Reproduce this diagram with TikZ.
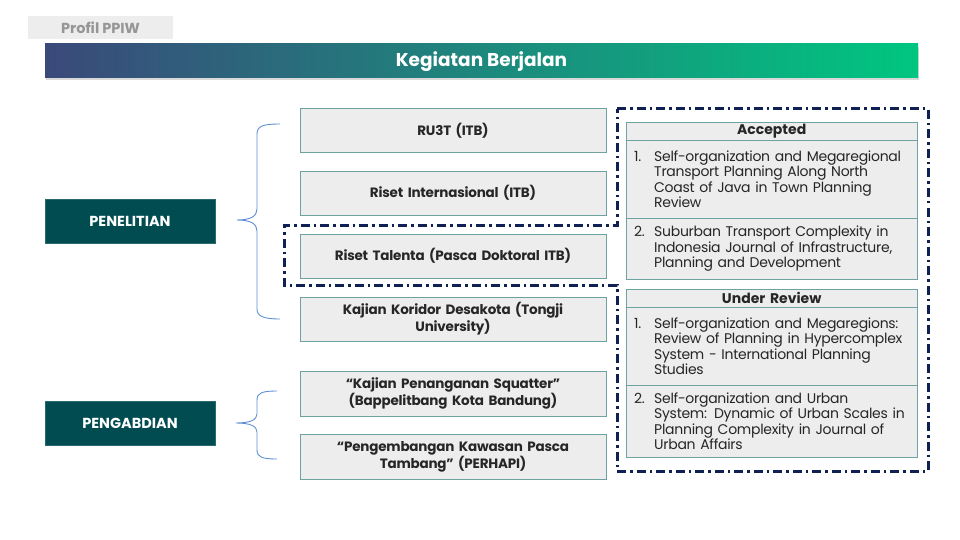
\documentclass[tikz,border=0pt]{standalone}
\usepackage{fontspec}
\setmainfont{Poppins}
\usepackage{tikz}
\usetikzlibrary{matrix,positioning}

\definecolor{ppteal}{RGB}{0,76,80}
\definecolor{ppedge}{RGB}{40,106,110}
\definecolor{ppnavy}{RGB}{14,33,82}
\definecolor{ppbrace}{RGB}{95,142,212}
\definecolor{ppline}{RGB}{110,162,160}
\definecolor{ppfill}{RGB}{237,237,237}
\definecolor{ppgrey}{RGB}{150,150,150}
\definecolor{ppblue}{RGB}{58,73,122}
\definecolor{ppmid}{RGB}{40,118,122}
\definecolor{ppgreen}{RGB}{0,198,128}

\newcommand{\pubitem}[2]{\makebox[20pt][l]{#1}\parbox[t]{255pt}{\raggedright #2}}

\begin{document}
\begin{tikzpicture}[x=1pt, y=-1pt,
  cat/.style={fill=ppteal, draw=ppedge, line width=0.6pt, text=white, font=\bfseries\fontsize{14.5}{16}\selectfont, minimum width=170pt, minimum height=44pt, inner sep=0pt},
  item/.style={draw=ppline, fill=ppfill, text=black!85, font=\bfseries\fontsize{13.5}{16}\selectfont\addfontfeatures{LetterSpace=-1.5}, minimum height=44.5pt, text width=296pt, inner xsep=5pt, inner ysep=0pt, align=center},
  brace/.style={draw=ppbrace, line width=0.9pt},
  frame/.style={draw=ppnavy, line width=3pt, dash pattern=on 9pt off 4pt on 2.5pt off 4pt},
  pub/.style={matrix of nodes, anchor=north west, inner sep=0pt, outer sep=0pt, row sep=-\pgflinewidth, nodes={draw=ppline, fill=ppfill, text=black!85, font=\fontsize{14}{15.5}\selectfont\addfontfeatures{LetterSpace=-2}, text width=275pt, inner xsep=8pt, inner ysep=0pt, anchor=center, align=left}}]
\useasboundingbox (0,0) rectangle (960,540);

\node[fill=ppfill, text=ppgrey, font=\bfseries\fontsize{14.5}{16}\selectfont, minimum width=145pt, minimum height=23pt, inner sep=0pt] (profil) at (100.5,27.5) {Profil PPIW};

\fill[black, opacity=0.15] (46,47) rectangle (919,80);
\shade[left color=ppblue, middle color=ppmid, right color=ppgreen] (45,44) rectangle (918,78);
\node[text=white, font=\bfseries\fontsize{18.5}{22}\selectfont] (judul) at (481.5,62) {Kegiatan Berjalan};

\node[cat] (pen) at (130,221) {PENELITIAN};
\node[cat] (peng) at (130,423) {PENGABDIAN};

\node[item] (ru3t) at (453,130.25) {RU3T (ITB)};
\node[item, below=18pt of ru3t] (intl) {Riset Internasional (ITB)};
\node[item, below=18pt of intl] (talenta) {Riset Talenta (Pasca Doktoral ITB)};
\node[item, below=18pt of talenta] (desakota) {Kajian Koridor Desakota (Tongji\\University)};
\node[item, below=30pt of desakota] (squatter) {“Kajian Penanganan Squatter”\\(Bappelitbang Kota Bandung)};
\node[item, below=18pt of squatter] (tambang) {“Pengembangan Kawasan Pasca\\Tambang” (PERHAPI)};

\draw[brace] (280,124) .. controls (263,124) and (257,126) .. (257,134) -- (257,209)
  .. controls (257,216) and (251,220) .. (237,220) .. controls (251,220) and (257,224) .. (257,231)
  -- (257,309) .. controls (257,316) and (263,319) .. (280,319);
\draw[brace] (277,391) .. controls (262,391) and (257,393) .. (257,400) -- (257,414)
  .. controls (257,420) and (250,423) .. (236,423) .. controls (250,423) and (257,426) .. (257,432)
  -- (257,450) .. controls (257,457) and (262,459) .. (277,459);

\matrix (acc) [pub] at (626,122) {
|[font=\bfseries\fontsize{14}{15.5}\selectfont, align=center, minimum height=18pt]| Accepted \\
|[minimum height=78pt]| \pubitem{1.}{Self-organization and Megaregional\\Transport Planning Along North\\Coast of Java in Town Planning\\Review} \\
|[minimum height=61pt]| \pubitem{2.}{Suburban Transport Complexity in\\Indonesia Journal of Infrastructure,\\Planning and Development} \\
};

\matrix (rev) [pub] at (626,289) {
|[font=\bfseries\fontsize{14}{15.5}\selectfont, align=center, minimum height=18pt]| Under Review \\
|[minimum height=78pt]| \pubitem{1.}{Self-organization and Megaregions:\\Review of Planning in Hypercomplex\\System - International Planning\\Studies} \\
|[minimum height=72pt]| \pubitem{2.}{Self-organization and Urban\\System: Dynamic of Urban Scales in\\Planning Complexity in Journal of\\Urban Affairs} \\
};

\draw[frame] (617,109) -- (928,109) -- (928,471) -- (617,471) -- (617,285) -- (284,285) -- (284,225) -- (617,225) -- cycle;
\end{tikzpicture}
\end{document}
